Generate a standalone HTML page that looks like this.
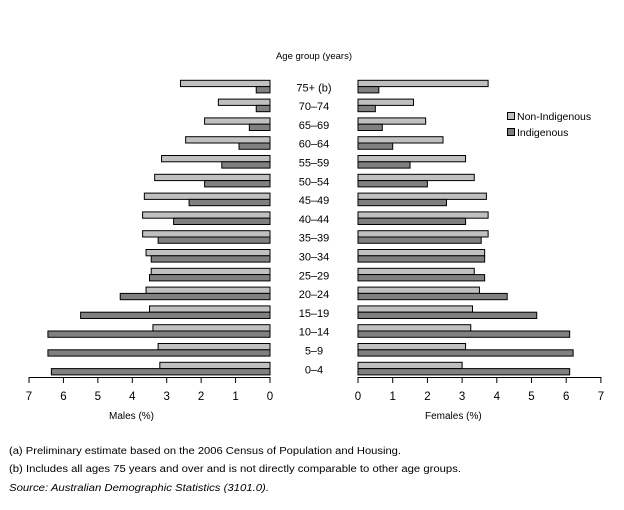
<!DOCTYPE html>
<html><head><style>body{margin:0;background:#fff}svg{display:block;font-family:"Liberation Sans",sans-serif;font-size:10px}</style></head>
<body>
<svg id="s" width="624" height="510" xmlns="http://www.w3.org/2000/svg"></svg>
<script>
var s=document.getElementById('s'),h='';
var labels=['75+ (b)','70–74','65–69','60–64','55–59','50–54','45–49','40–44','35–39','30–34','25–29','20–24','15–19','10–14','5–9','0–4'];
var mL=[2.6,1.5,1.9,2.45,3.15,3.35,3.65,3.7,3.7,3.6,3.45,3.6,3.5,3.4,3.25,3.2];
var mD=[0.4,0.4,0.6,0.9,1.4,1.9,2.35,2.8,3.25,3.45,3.5,4.35,5.5,6.45,6.45,6.35];
var fL=[3.75,1.6,1.95,2.45,3.1,3.35,3.7,3.75,3.75,3.65,3.35,3.5,3.3,3.25,3.1,3.0];
var fD=[0.6,0.5,0.7,1.0,1.5,2.0,2.55,3.1,3.55,3.65,3.65,4.3,5.15,6.1,6.2,6.1];
var kL=34.43,kR=34.7;
h+='<text x="314" y="59" text-anchor="middle" font-size="9.5">Age group (years)</text>';
for(var i=0;i<16;i++){
 var y=80.3+i*18.8;
 h+='<rect x="'+(270-mL[i]*kL)+'" y="'+y+'" width="'+(mL[i]*kL)+'" height="6.3" fill="#c0c0c0" stroke="#000" stroke-width="1"/>';
 h+='<rect x="'+(270-mD[i]*kL)+'" y="'+(y+6.3)+'" width="'+(mD[i]*kL)+'" height="6.3" fill="#808080" stroke="#000" stroke-width="1"/>';
 h+='<rect x="358" y="'+y+'" width="'+(fL[i]*kR)+'" height="6.3" fill="#c0c0c0" stroke="#000" stroke-width="1"/>';
 h+='<rect x="358" y="'+(y+6.3)+'" width="'+(fD[i]*kR)+'" height="6.3" fill="#808080" stroke="#000" stroke-width="1"/>';
 h+='<text x="314" y="'+(y+11)+'" text-anchor="middle" font-size="11">'+labels[i]+'</text>';
}
h+='<line x1="29" y1="377.5" x2="270.5" y2="377.5" stroke="#000"/>';
h+='<line x1="357.5" y1="377.5" x2="601.5" y2="377.5" stroke="#000"/>';
for(var v=0;v<=7;v++){
 var x=270-v*kL;
 h+='<line x1="'+x+'" y1="377" x2="'+x+'" y2="383" stroke="#000"/>';
 h+='<text x="'+x+'" y="400" text-anchor="middle" font-size="11.5">'+v+'</text>';
 var x2=358+v*kR;
 h+='<line x1="'+x2+'" y1="377" x2="'+x2+'" y2="383" stroke="#000"/>';
 h+='<text x="'+x2+'" y="400" text-anchor="middle" font-size="11.5">'+v+'</text>';
}
h+='<text x="109" y="419">Males (%)</text><text x="425" y="419">Females (%)</text>';
h+='<rect x="507.5" y="112.5" width="7" height="7" fill="#c0c0c0" stroke="#000"/><text x="517" y="120" font-size="10.5">Non-Indigenous</text>';
h+='<rect x="507.5" y="128.5" width="7" height="7" fill="#808080" stroke="#000"/><text x="517" y="136" font-size="10.5">Indigenous</text>';
h+='<text x="9" y="454" textLength="392" lengthAdjust="spacingAndGlyphs">(a) Preliminary estimate based on the 2006 Census of Population and Housing.</text>';
h+='<text x="9" y="472" textLength="452" lengthAdjust="spacingAndGlyphs">(b) Includes all ages 75 years and over and is not directly comparable to other age groups.</text>';
h+='<text x="9" y="491" font-style="italic" textLength="260" lengthAdjust="spacingAndGlyphs">Source: Australian Demographic Statistics (3101.0).</text>';
s.innerHTML=h;
</script>
</body></html>
